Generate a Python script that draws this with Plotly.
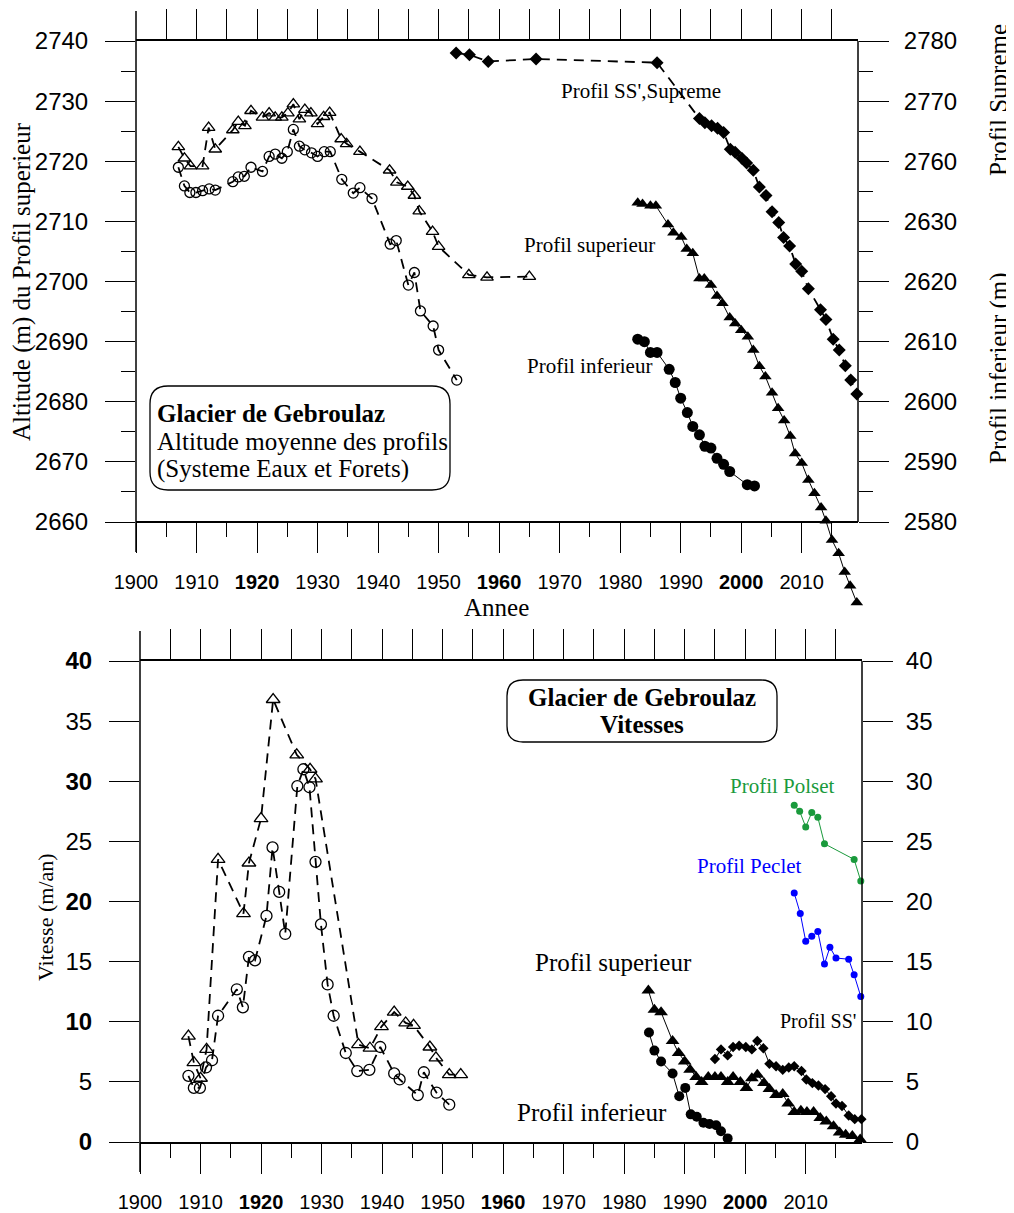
import plotly.graph_objects as go

# The page body adds an 8 px offset, so the figure is 8 px smaller and coordinates are shifted.
OFF = 8
W, H = 1014 - OFF, 1213 - OFF

# ---------------- DATA: top panel (altitudes) ----------------
sup_old_years = [1907.0,1908.0,1909.0,1911.0,1912.0,1913.1,1916.0,1916.9,1918.0,1919.0,1920.9,1922.0,1923.0,1924.1,1925.1,1926.0,1927.0,1927.9,1928.9,1930.0,1931.0,1932.0,1933.9,1934.8,1937.0,1941.9,1943.1,1944.9,1946.0,1946.8,1949.0,1950.0,1955.0,1958.0,1965.0]
sup_old_alt = [2722.4,2720.5,2719.2,2719.2,2725.6,2722.0,2725.2,2726.6,2725.9,2728.4,2727.3,2728.0,2727.3,2727.3,2728.0,2729.5,2727.0,2728.6,2728.0,2726.2,2727.4,2728.1,2723.7,2722.9,2721.6,2718.5,2716.5,2715.8,2714.3,2711.7,2708.3,2705.8,2701.1,2700.7,2700.8]

inf_old_years = [1907.0,1908.0,1908.9,1909.9,1911.0,1912.1,1913.1,1916.0,1916.9,1917.9,1919.0,1920.9,1922.0,1923.0,1924.1,1925.0,1926.0,1927.0,1927.9,1929.0,1930.0,1931.1,1932.1,1934.0,1935.9,1937.0,1939.0,1942.0,1943.0,1945.0,1946.0,1947.0,1949.1,1950.0,1953.0]
inf_old_alt = [2719.0,2715.9,2714.8,2714.8,2715.1,2715.4,2715.2,2716.6,2717.4,2717.5,2719.0,2718.3,2720.8,2721.2,2720.5,2721.6,2725.3,2722.5,2721.9,2721.4,2720.8,2721.6,2721.6,2717.0,2714.7,2715.6,2713.8,2706.2,2706.8,2699.4,2701.5,2695.1,2692.6,2688.6,2683.6]

supreme_years = [1952.9,1955.1,1958.2,1966.1,1986.1,1993.1,1994.0,1995.1,1996.1,1997.1,1998.2,1999.0,2000.1,2000.9,2002.0,2003.0,2004.1,2005.1,2006.2,2007.0,2008.0,2009.0,2010.0,2011.1,2013.1,2014.0,2015.2,2016.2,2017.2,2018.1,2019.1]
supreme_alt = [2778.0,2777.7,2776.6,2777.0,2776.4,2767.1,2766.4,2765.9,2765.5,2764.8,2762.0,2761.5,2760.5,2759.7,2758.5,2755.7,2754.3,2751.6,2749.8,2747.3,2745.9,2742.9,2741.7,2738.8,2735.3,2733.7,2730.4,2728.6,2726.0,2723.6,2721.3]

sup_new_years = [1982.9,1983.7,1985.0,1985.9,1987.9,1988.8,1990.1,1991.0,1992.0,1993.1,1993.9,1995.0,1996.0,1996.9,1998.1,1999.0,2000.0,2001.1,2002.0,2003.0,2004.0,2005.1,2006.1,2007.1,2008.1,2008.9,2010.0,2011.1,2012.1,2013.2,2014.0,2015.0,2016.1,2017.1,2018.0,2019.1]
sup_new_alt = [2713.1,2712.9,2712.6,2712.6,2709.5,2708.1,2707.4,2705.4,2704.7,2700.5,2700.5,2699.4,2697.6,2696.4,2694.0,2693.0,2691.9,2690.8,2688.6,2685.9,2684.2,2681.5,2678.9,2676.9,2674.3,2671.4,2669.8,2667.0,2664.8,2662.4,2660.2,2657.0,2654.8,2651.7,2649.4,2646.6]

inf_new_years = [1982.9,1984.0,1985.0,1986.1,1988.1,1989.1,1990.0,1991.1,1992.0,1993.1,1994.0,1995.0,1996.0,1997.1,1998.1,2001.0,2002.2]
inf_new_alt = [2610.4,2610.0,2608.2,2608.2,2605.4,2603.2,2600.6,2598.2,2595.9,2594.5,2592.6,2592.3,2590.6,2589.6,2588.4,2586.2,2586.0]

# ---------------- DATA: bottom panel (velocities) ----------------
v_sup_old_years = [1908.0,1908.9,1910.0,1911.0,1912.9,1917.1,1918.0,1920.0,1922.0,1925.9,1928.1,1929.0,1936.1,1938.0,1939.9,1942.0,1943.9,1945.2,1947.9,1948.9,1951.1,1953.0]
v_sup_old = [8.8,6.6,5.3,7.7,23.5,19.0,23.2,26.9,36.8,32.2,31.0,30.2,8.1,7.8,9.6,10.8,9.9,9.7,7.9,7.0,5.6,5.6]

v_inf_old_years = [1908.0,1908.9,1909.9,1910.9,1911.9,1912.9,1916.0,1917.0,1918.0,1919.0,1920.9,1921.9,1923.0,1924.0,1926.0,1927.0,1928.0,1929.0,1929.9,1931.0,1932.0,1934.0,1935.9,1937.9,1939.7,1942.0,1942.9,1945.9,1946.9,1949.0,1951.1]
v_inf_old = [5.5,4.5,4.5,6.2,6.8,10.5,12.7,11.2,15.4,15.1,18.8,24.5,20.8,17.3,29.6,31.0,29.5,23.3,18.1,13.1,10.5,7.4,5.9,6.0,7.9,5.7,5.2,3.9,5.8,4.1,3.1]

v_sup_new_years = [1984.0,1985.0,1986.1,1988.0,1989.0,1990.0,1990.9,1991.9,1992.8,1993.9,1995.0,1996.0,1997.1,1998.0,1999.2,2000.2,2001.1,2002.0,2003.1,2004.0,2005.1,2006.2,2007.1,2008.1,2009.2,2010.2,2011.3,2012.4,2013.4,2014.6,2015.6,2016.6,2017.7,2019.0]
v_sup_new = [12.6,11.0,10.8,8.4,7.4,6.7,6.0,5.4,5.0,5.4,5.4,5.4,5.0,5.4,5.0,4.5,5.3,5.6,4.9,4.4,3.9,4.0,3.2,2.5,2.6,2.5,2.5,2.0,1.7,1.3,0.8,0.6,0.5,0.2]

v_inf_new_years = [1984.1,1985.0,1986.1,1988.0,1989.1,1990.1,1991.0,1992.0,1993.1,1994.1,1995.2,1996.0,1997.1]
v_inf_new = [9.1,7.6,6.7,5.7,3.8,4.5,2.3,2.1,1.6,1.5,1.4,0.9,0.3]

v_ss_years = [1995.0,1996.0,1997.1,1998.0,1999.0,2000.1,2001.1,2002.0,2003.0,2004.0,2005.1,2006.2,2007.2,2008.1,2009.3,2010.1,2011.1,2012.1,2013.2,2014.2,2015.0,2016.0,2017.1,2018.1,2019.2]
v_ss = [6.9,7.7,7.2,7.9,8.0,7.9,7.7,8.4,7.8,6.5,6.3,6.0,6.2,6.3,5.9,5.2,4.9,4.7,4.4,3.8,3.2,3.0,2.2,1.9,1.9]

v_polset_years = [2008.1,2009.0,2010.0,2011.0,2012.0,2013.1,2018.0,2019.1]
v_polset = [28.0,27.5,26.2,27.4,27.0,24.8,23.5,21.7]

v_peclet_years = [2008.1,2009.1,2010.0,2011.0,2012.0,2013.1,2014.0,2015.0,2017.1,2018.0,2019.1]
v_peclet = [20.7,19.0,16.7,17.1,17.5,14.8,16.2,15.3,15.2,13.9,12.1]

# tick labels
year_ticks = list(range(1900, 2011, 10))
year_labels = [f"<b>{y}</b>" if y in (1920, 1960, 2000) else str(y) for y in year_ticks]
alt_ticks = list(range(2660, 2741, 10))
inf_ticks = list(range(2580, 2631, 10))
sup_ticks = [2760, 2770, 2780]
vel_ticks = list(range(0, 41, 5))
vel_labels_left = [f"<b>{v}</b>" if v % 10 == 0 else str(v) for v in vel_ticks]

# ---------------- helpers ----------------
def xp(px):
    return (px - OFF) / W

def yp(py):
    return 1 - (py - OFF) / H

SANS = "Liberation Sans, Arial, sans-serif"
SERIF = "Liberation Serif, Times New Roman, serif"
DASH = "10px,7px"

fig = go.Figure()

# top panel traces
fig.add_trace(go.Scatter(x=sup_old_years, y=sup_old_alt, xaxis="x", yaxis="y", mode="lines+markers",
                         line=dict(color="black", width=1.8, dash=DASH),
                         marker=dict(symbol="triangle-up-open", size=11, color="black", line=dict(width=1.3)),
                         cliponaxis=False))
fig.add_trace(go.Scatter(x=inf_old_years, y=inf_old_alt, xaxis="x", yaxis="y", mode="lines+markers",
                         line=dict(color="black", width=1.8, dash=DASH),
                         marker=dict(symbol="circle-open", size=10, color="black", line=dict(width=1.3)),
                         cliponaxis=False))
fig.add_trace(go.Scatter(x=sup_new_years, y=sup_new_alt, xaxis="x", yaxis="y", mode="lines+markers",
                         line=dict(color="black", width=1),
                         marker=dict(symbol="triangle-up", size=11, color="black"),
                         cliponaxis=False))
fig.add_trace(go.Scatter(x=inf_new_years, y=inf_new_alt, xaxis="x", yaxis="y3", mode="lines+markers",
                         line=dict(color="black", width=1),
                         marker=dict(symbol="circle", size=11, color="black"),
                         cliponaxis=False))
fig.add_trace(go.Scatter(x=supreme_years, y=supreme_alt, xaxis="x", yaxis="y4", mode="lines+markers",
                         line=dict(color="black", width=1.8, dash=DASH),
                         marker=dict(symbol="diamond", size=10, color="black"),
                         cliponaxis=False))

# bottom panel traces
fig.add_trace(go.Scatter(x=v_sup_old_years, y=v_sup_old, xaxis="x3", yaxis="y5", mode="lines+markers",
                         line=dict(color="black", width=1.8, dash=DASH),
                         marker=dict(symbol="triangle-up-open", size=12, color="black", line=dict(width=1.3)),
                         cliponaxis=False))
fig.add_trace(go.Scatter(x=v_inf_old_years, y=v_inf_old, xaxis="x3", yaxis="y5", mode="lines+markers",
                         line=dict(color="black", width=1.8, dash=DASH),
                         marker=dict(symbol="circle-open", size=11, color="black", line=dict(width=1.3)),
                         cliponaxis=False))
fig.add_trace(go.Scatter(x=v_sup_new_years, y=v_sup_new, xaxis="x3", yaxis="y5", mode="lines+markers",
                         line=dict(color="black", width=1),
                         marker=dict(symbol="triangle-up", size=12, color="black"),
                         cliponaxis=False))
fig.add_trace(go.Scatter(x=v_inf_new_years, y=v_inf_new, xaxis="x3", yaxis="y5", mode="lines+markers",
                         line=dict(color="black", width=1),
                         marker=dict(symbol="circle", size=10, color="black"),
                         cliponaxis=False))
fig.add_trace(go.Scatter(x=v_ss_years, y=v_ss, xaxis="x3", yaxis="y5", mode="lines+markers",
                         line=dict(color="black", width=1),
                         marker=dict(symbol="diamond", size=8, color="black"),
                         cliponaxis=False))
fig.add_trace(go.Scatter(x=v_polset_years, y=v_polset, xaxis="x3", yaxis="y5", mode="lines+markers",
                         line=dict(color="#1a9a3c", width=1),
                         marker=dict(symbol="circle", size=7, color="#1a9a3c"),
                         cliponaxis=False))
fig.add_trace(go.Scatter(x=v_peclet_years, y=v_peclet, xaxis="x3", yaxis="y5", mode="lines+markers",
                         line=dict(color="#0000ff", width=1),
                         marker=dict(symbol="circle", size=7, color="#0000ff"),
                         cliponaxis=False))

# invisible traces so the mirrored (top / right) axes get drawn
for xa, ya, xs, ys in [("x2", "y", sup_old_years, sup_old_alt),
                       ("x4", "y5", v_sup_old_years, v_sup_old),
                       ("x3", "y6", v_sup_old_years, v_sup_old)]:
    fig.add_trace(go.Scatter(x=xs[:1], y=ys[:1], xaxis=xa, yaxis=ya, mode="markers",
                             marker=dict(opacity=0), hoverinfo="skip"))

# ---------------- axes ----------------
XR = [1900, 2019.3]
TOP_DOM_X = [xp(136), xp(858)]
BOT_DOM_X = [xp(140), xp(862)]
px_per_m = (522 - 41) / 80
TOP_DOM_Y = [yp(41 + 96 * px_per_m), yp(41)]
BOT_DOM_Y = [yp(1142), yp(661)]

tickfont_x = dict(family=SANS, size=20, color="black")
tickfont_y = dict(family=SANS, size=24, color="black")

common = dict(showgrid=False, zeroline=False, ticks="outside", tickcolor="black", tickwidth=1.2,
              automargin=False)
minor_style = dict(ticks="outside", ticklen=14, tickcolor="black", tickwidth=1.2)

layout = dict(
    width=W, height=H, margin=dict(l=0, r=0, t=0, b=0, autoexpand=False),
    paper_bgcolor="white", plot_bgcolor="rgba(0,0,0,0)", showlegend=False,
    xaxis=dict(domain=TOP_DOM_X, range=XR, anchor="free", position=yp(522),
               tickmode="array", tickvals=year_ticks, ticktext=year_labels, ticklen=30,
               minor=dict(tickvals=list(range(1905, 2016, 10)), **minor_style),
               showline=True, linecolor="black", linewidth=1.5,
               tickfont=tickfont_x, ticklabelstandoff=12, **common),
    xaxis2=dict(overlaying="x", side="top", anchor="y", range=XR,
                tickmode="array", tickvals=list(range(1905, 2016, 5)), ticklen=30,
                showticklabels=False, showline=True, linecolor="black", linewidth=1.5, **common),
    yaxis=dict(domain=TOP_DOM_Y, range=[2644, 2740], anchor="x",
               tickmode="array", tickvals=alt_ticks, ticklen=30,
               minor=dict(tickvals=list(range(2665, 2736, 10)), **minor_style),
               showline=False, tickfont=tickfont_y, ticklabelstandoff=12, **common),
    yaxis3=dict(overlaying="y", side="right", anchor="x", range=[2564, 2660],
                tickmode="array", tickvals=inf_ticks, ticklen=30,
                minor=dict(tickvals=list(range(2585, 2636, 10)), **minor_style),
                showline=False, tickfont=tickfont_y, ticklabelstandoff=10, **common),
    yaxis4=dict(overlaying="y", side="right", anchor="x", range=[2684, 2780],
                tickmode="array", tickvals=sup_ticks, ticklen=30,
                minor=dict(tickvals=[2765, 2775], **minor_style),
                showline=False, tickfont=tickfont_y, ticklabelstandoff=10, **common),
    xaxis3=dict(domain=BOT_DOM_X, range=XR, anchor="y5",
                tickmode="array", tickvals=year_ticks, ticktext=year_labels, ticklen=30,
                minor=dict(tickvals=list(range(1905, 2016, 10)), **minor_style),
                showline=True, linecolor="black", linewidth=1.5,
                tickfont=tickfont_x, ticklabelstandoff=11, **common),
    xaxis4=dict(overlaying="x3", side="top", anchor="y5", range=XR,
                tickmode="array", tickvals=list(range(1905, 2016, 5)), ticklen=30,
                showticklabels=False, showline=True, linecolor="black", linewidth=1.5, **common),
    yaxis5=dict(domain=BOT_DOM_Y, range=[0, 40], anchor="x3",
                tickmode="array", tickvals=vel_ticks, ticktext=vel_labels_left, ticklen=30,
                showline=False, tickfont=tickfont_y, ticklabelstandoff=12, **common),
    yaxis6=dict(overlaying="y5", side="right", anchor="x3", range=[0, 40],
                tickmode="array", tickvals=vel_ticks, ticklen=30,
                showline=False, tickfont=tickfont_y, ticklabelstandoff=8, **common),
)
fig.update_layout(**layout)

# ---------------- shapes: axis lines & rounded boxes ----------------
def vline(px, py0, py1):
    return dict(type="line", xref="paper", yref="paper", x0=xp(px), x1=xp(px),
                y0=yp(py0), y1=yp(py1), line=dict(color="black", width=1.5))

def rounded(px0, py0, px1, py1, r):
    x0, x1 = xp(px0), xp(px1)
    yt, yb = yp(py0), yp(py1)
    rx, ry = r / W, r / H
    path = (f"M {x0+rx},{yt} L {x1-rx},{yt} Q {x1},{yt} {x1},{yt-ry} "
            f"L {x1},{yb+ry} Q {x1},{yb} {x1-rx},{yb} L {x0+rx},{yb} "
            f"Q {x0},{yb} {x0},{yb+ry} L {x0},{yt-ry} Q {x0},{yt} {x0+rx},{yt} Z")
    return dict(type="path", xref="paper", yref="paper", path=path,
                line=dict(color="black", width=1.3), fillcolor="rgba(0,0,0,0)")

shapes = [
    vline(136, 11, 552), vline(858, 41, 522),
    vline(140, 631, 1172), vline(862, 661, 1142),
    rounded(150, 386, 450, 490, 18),
    rounded(507, 680, 777, 742, 16),
]
fig.update_layout(shapes=shapes)

# ---------------- annotations ----------------
def ann(text, px, py, size, color="black", angle=0, bold=False, xanchor="center"):
    if bold:
        text = "<b>" + text + "</b>"
    return dict(text=text, x=xp(px), y=yp(py), xref="paper", yref="paper", showarrow=False,
                xanchor=xanchor, yanchor="middle", textangle=angle,
                font=dict(family=SERIF, size=size, color=color))

annotations = [
    ann("Altitude (m) du Profil superieur", 22, 282, 25, angle=-90),
    ann("Profil Supreme", 999, 100, 25, angle=-90),
    ann("Profil inferieur (m)", 999, 368, 25, angle=-90),
    ann("Annee", 496, 607, 25),
    ann("Vitesse (m/an)", 45, 917, 22, angle=-90),
    ann("Profil SS',Supreme", 641, 91, 21),
    ann("Profil superieur", 589, 245, 21),
    ann("Profil inferieur", 589, 366, 21),
    ann("Glacier de Gebroulaz", 155, 413, 25, bold=True, xanchor="left"),
    ann("Altitude moyenne des profils", 155, 441, 25, xanchor="left"),
    ann("(Systeme Eaux et Forets)", 155, 469, 25, xanchor="left"),
    ann("Glacier de Gebroulaz", 642, 697, 25, bold=True),
    ann("Vitesses", 642, 724, 25, bold=True),
    ann("Profil Polset", 782, 786, 21, color="#1a9a3c"),
    ann("Profil Peclet", 749, 866, 21, color="#0000ff"),
    ann("Profil superieur", 613, 962, 25),
    ann("Profil inferieur", 592, 1112, 25),
    ann("Profil SS'", 818, 1021, 20),
]
fig.update_layout(annotations=annotations)

fig.write_html("out.html")
